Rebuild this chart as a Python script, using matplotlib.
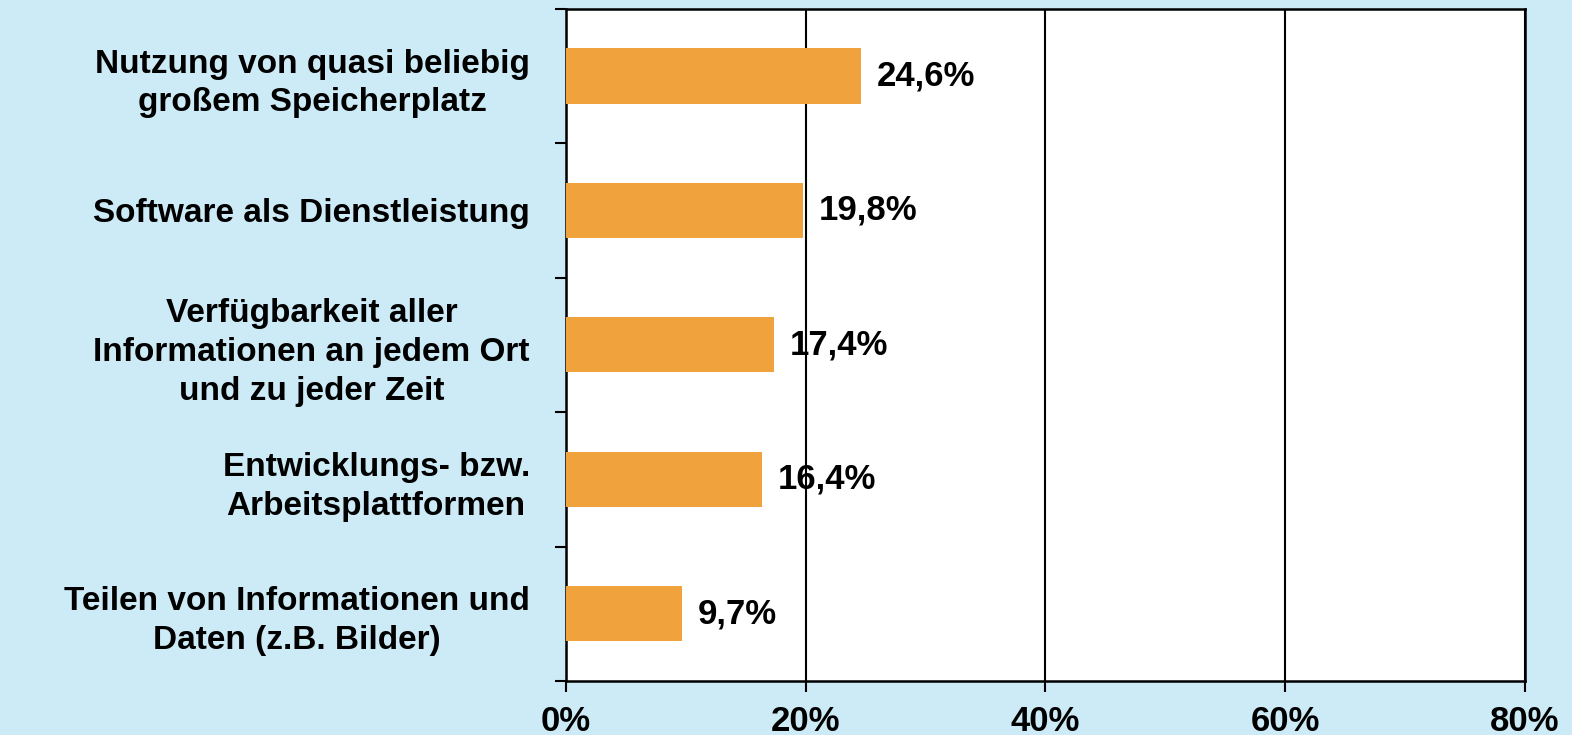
import matplotlib.pyplot as plt
import numpy as np

categories = [
    "Nutzung von quasi beliebig\ngroßem Speicherplatz",
    "Software als Dienstleistung",
    "Verfügbarkeit aller\nInformationen an jedem Ort\nund zu jeder Zeit",
    "Entwicklungs- bzw.\nArbeitsplattformen",
    "Teilen von Informationen und\nDaten (z.B. Bilder)",
]
values = [24.6, 19.8, 17.4, 16.4, 9.7]
value_labels = ["24,6%", "19,8%", "17,4%", "16,4%", "9,7%"]
xticks = [0, 20, 40, 60, 80]
xtick_labels = ["0%", "20%", "40%", "60%", "80%"]

plt.rcParams["font.family"] = ["Liberation Sans", "DejaVu Sans"]
plt.rcParams["font.weight"] = "bold"

bg = "#cdebf6"
fig = plt.figure(figsize=(15.72, 7.35), dpi=100, facecolor=bg)
ax = fig.add_axes([0.360, 0.0735, 0.610, 0.9145])
ax.set_facecolor("white")

y = np.arange(len(categories))
ax.barh(y, values, height=0.41, color="#f0a33c", zorder=3)
ax.set_ylim(len(categories) - 0.5, -0.5)
ax.set_xlim(0, 80)

for yi, v, lab in zip(y, values, value_labels):
    ax.text(v + 1.3, yi, lab, va="center", ha="left", fontsize=25,
            fontweight="bold", zorder=4)

ax.set_xticks(xticks)
ax.set_xticklabels(xtick_labels, fontsize=25, fontweight="bold")
ax.set_yticks(np.arange(-0.5, len(categories), 1.0))
ax.set_yticklabels([])
ax.set_yticks(y, minor=True)
ax.set_yticklabels(categories, minor=True, fontsize=24, fontweight="bold",
                   ha="right", multialignment="center", linespacing=1.33)
ax.tick_params(axis="y", which="minor", length=0, pad=26)
ax.tick_params(axis="y", which="major", length=8, width=1.5, direction="out")
ax.tick_params(axis="x", length=8, width=1.5, direction="out", pad=9)

ax.grid(axis="x", color="black", linewidth=1.5, zorder=1)
for s in ax.spines.values():
    s.set_linewidth(1.8)
    s.set_color("black")

plt.savefig("out.png", dpi=100, facecolor=bg)
